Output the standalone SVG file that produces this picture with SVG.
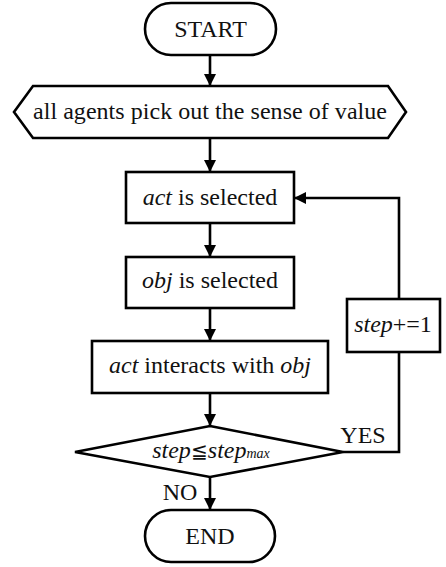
<svg xmlns="http://www.w3.org/2000/svg" width="446" height="567" viewBox="0 0 446 567">
<style>
.s{fill:#fff;stroke:#000;stroke-width:2.6}
.l{fill:none;stroke:#000;stroke-width:2.6}
.t{font-family:'Liberation Serif','Times New Roman','DejaVu Serif',serif;font-size:24px;fill:#111;text-anchor:middle}
.i{font-style:italic}
</style>
<defs>
<marker id="a" viewBox="0 0 12 12" refX="12" refY="6" markerWidth="12" markerHeight="12" markerUnits="userSpaceOnUse" orient="auto">
<path d="M0,0 L12,6 L0,12 Z" fill="#000"/>
</marker>
</defs>
<g id="connectors">
<line class="l" x1="210" y1="55" x2="210" y2="86" marker-end="url(#a)"/>
<line class="l" x1="210" y1="138" x2="210" y2="172" marker-end="url(#a)"/>
<line class="l" x1="210" y1="223" x2="210" y2="257" marker-end="url(#a)"/>
<line class="l" x1="210" y1="308" x2="210" y2="341" marker-end="url(#a)"/>
<line class="l" x1="210" y1="393" x2="210" y2="426" marker-end="url(#a)"/>
<line class="l" x1="210" y1="477" x2="210" y2="510" marker-end="url(#a)"/>
<polyline class="l" points="343,452 399,452 399,352"/>
<polyline class="l" points="399,299 399,198 294,198" marker-end="url(#a)"/>
<text class="t" x="363" y="443">YES</text>
<text class="t" x="180" y="500">NO</text>
</g>
<g id="start">
<rect class="s" x="145" y="3" width="131" height="52" rx="26"/>
<text class="t" x="210.5" y="37">START</text>
</g>
<g id="pick">
<polygon class="s" points="33,86 388,86 406,112 388,138 33,138 14,112"/>
<text class="t" x="210" y="119" textLength="354" lengthAdjust="spacing">all agents pick out the sense of value</text>
</g>
<g id="act">
<rect class="s" x="126" y="172" width="168" height="51"/>
<text class="t" x="210" y="205"><tspan class="i">act</tspan> is selected</text>
</g>
<g id="obj">
<rect class="s" x="126" y="257" width="168" height="51"/>
<text class="t" x="210" y="288"><tspan class="i">obj</tspan> is selected</text>
</g>
<g id="interact">
<rect class="s" x="92" y="341" width="236" height="52"/>
<text class="t" x="210" y="373"><tspan class="i">act</tspan> interacts with <tspan class="i">obj</tspan></text>
</g>
<g id="stepinc">
<rect class="s" x="347" y="299" width="93" height="53"/>
<text class="t" x="393" y="332"><tspan class="i">step</tspan>+=1</text>
</g>
<g id="decision">
<polygon class="s" points="210,426 343,452 210,477 75,452"/>
<text class="t" x="211" y="458"><tspan class="i">step</tspan><tspan font-family="'DejaVu Serif',serif" font-size="20">≦</tspan><tspan class="i">step</tspan><tspan class="i" font-size="14">max</tspan></text>
</g>
<g id="end">
<rect class="s" x="145" y="510" width="130" height="52" rx="26"/>
<text class="t" x="210" y="544">END</text>
</g>
</svg>
